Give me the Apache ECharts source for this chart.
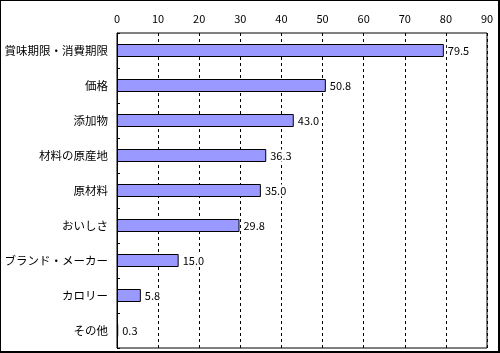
<!DOCTYPE html>
<html>
<head>
<meta charset="utf-8">
<script src="https://cdn.jsdelivr.net/npm/echarts@6/dist/echarts.min.js"></script>
<style>
  html, body { margin: 0; padding: 0; background: #fff; }
  #chart { width: 500px; height: 353px; box-sizing: border-box; border: 1px solid #000; border-right-width: 2px; border-bottom-width: 2px; }
</style>
</head>
<body>
<div id="chart"></div>
<script>
// 項目と割合（%）
var categories = ['賞味期限・消費期限', '価格', '添加物', '材料の原産地', '原材料', 'おいしさ', 'ブランド・メーカー', 'カロリー', 'その他'];
var values = [79.5, 50.8, 43.0, 36.3, 35.0, 29.8, 15.0, 5.8, 0.3];

var font = '"Noto Sans CJK JP", sans-serif';
var chart = echarts.init(document.getElementById('chart'));

chart.setOption({
    animation: false,
    grid: {
        left: 116, right: 11, top: 32, bottom: 3,
        show: true, borderColor: '#000', borderWidth: 1
    },
    xAxis: {
        type: 'value',
        position: 'top',
        min: 0, max: 90, interval: 10,
        axisLine: { show: false },
        axisTick: { show: false },
        axisLabel: { color: '#000', fontSize: 11, fontFamily: font, margin: 9 },
        splitLine: { show: true, lineStyle: { color: '#000', type: [3, 3], width: 1 } }
    },
    yAxis: {
        type: 'category',
        data: categories,
        inverse: true,
        axisLine: { show: true, lineStyle: { color: '#000' } },
        axisTick: { show: true, inside: true, length: 3, lineStyle: { color: '#000' } },
        axisLabel: { color: '#000', fontSize: 11.5, fontFamily: font, margin: 9 }
    },
    series: [{
        type: 'bar',
        data: values,
        barWidth: 13,
        itemStyle: { color: '#9999FF', borderColor: '#000', borderWidth: 1 },
        label: {
            show: true, position: 'right', distance: 3,
            color: '#000', fontSize: 11, fontFamily: font,
            backgroundColor: '#fff', padding: [1, 1, 0, 1],
            formatter: function (p) { return p.value.toFixed(1); }
        }
    }]
});
</script>
</body>
</html>
